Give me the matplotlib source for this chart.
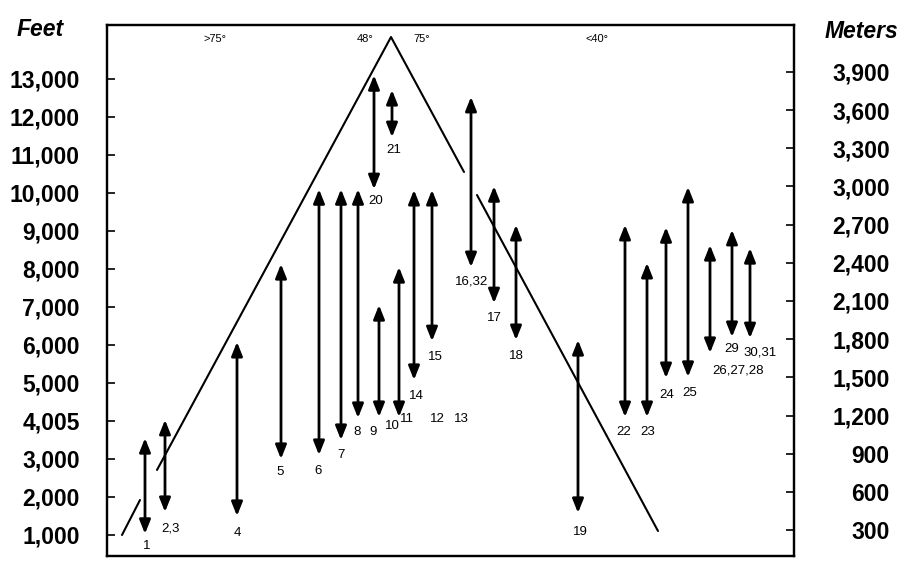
import numpy as np
import matplotlib
matplotlib.use("Agg")
import matplotlib.pyplot as plt

# ---- data -------------------------------------------------------------
site_labels = ["1", "2,3", "4", "5", "6", "7", "8", "9", "10", "14", "15",
               "16,32", "17", "18", "19", "20", "21", "22", "23", "24", "25",
               "26,27,28", "29", "30,31"]
site_x = [38, 58, 130, 174, 212, 234, 251, 272, 292, 307, 325,
          364, 387, 409, 471, 267, 285, 518, 540, 559, 581,
          603, 625, 643]
top_ft = [3550, 4030, 6080, 8130, 10100, 10100, 10100, 7050, 8050, 10080, 10080,
          12530, 10180, 9160, 6130, 13100, 12710, 9160, 8160, 9100, 10160,
          8630, 9030, 8550]
bottom_ft = [1030, 1605, 1500, 3000, 3105, 3500, 4080, 4105, 4105, 5080, 6100,
             8050, 7100, 6130, 1580, 10100, 11470, 4105, 4105, 5130, 5160,
             5790, 6210, 6180]
label_x = [40, 63, 130, 173, 211, 234, 250, 266, 285, 309, 328,
           365, 387, 409, 473, 269, 287, 517, 541, 560, 583,
           631, 625, 653]
label_y = [710, 1160, 1050, 2660, 2680, 3100, 3710, 3710, 3870, 4660, 5680,
           7660, 6710, 5710, 1080, 9790, 11130, 3710, 3710, 4680, 4740,
           5340, 5890, 5790]

extra_labels = ["11", "12", "13"]
extra_x = [300, 330, 354]
extra_y = [4050, 4050, 4050]

# mountain profile (NaN = gap)
profile_x = [15, 33, np.nan, 50, 284, 357, np.nan, 370, 551]
profile_ft = [1000, 1921, np.nan, 2711, 14105, 10553, np.nan, 9947, 1105]

angle_labels = [">75°", "48°", "75°", "<40°"]
angle_x = [108, 258, 315, 490]
angle_y = [14050, 14050, 14050, 14050]

feet_ticks = [1000, 2000, 3000, 4000, 5000, 6000, 7000, 8000, 9000, 10000,
              11000, 12000, 13000]
feet_labels = ["1,000", "2,000", "3,000", "4,005", "5,000", "6,000", "7,000",
               "8,000", "9,000", "10,000", "11,000", "12,000", "13,000"]
meter_ticks = [300, 600, 900, 1200, 1500, 1800, 2100, 2400, 2700, 3000,
               3300, 3600, 3900]
meter_labels = ["300", "600", "900", "1,200", "1,500", "1,800", "2,100",
                "2,400", "2,700", "3,000", "3,300", "3,600", "3,900"]

# ---- figure -----------------------------------------------------------
fig = plt.figure(figsize=(9.02, 5.66), dpi=100)
ax = fig.add_axes([107 / 902, 1 - 556 / 566, 687 / 902, 531 / 566])
ax.set_xlim(0, 687)
ax.set_ylim(447, 14421)

bold = dict(family="Liberation Sans", weight="bold", size=16.5)

ax.set_xticks([])
ax.set_yticks(feet_ticks)
ax.set_yticklabels(feet_labels, **bold)
ax.tick_params(axis="y", direction="in", length=6, width=1.2, pad=19.5)
for s in ax.spines.values():
    s.set_linewidth(1.6)

ax2 = ax.twinx()
ax2.set_ylim(96, 4269)
ax2.set_yticks(meter_ticks)
ax2.set_yticklabels(meter_labels, **bold)
ax2.tick_params(axis="y", direction="in", length=6, width=1.2, pad=69)
for lbl in ax2.get_yticklabels():
    lbl.set_horizontalalignment("right")
for s in ax2.spines.values():
    s.set_linewidth(1.6)

# profile
ax.plot(profile_x, profile_ft, color="black", lw=1.5, solid_capstyle="round")

# arrows
for x, t, b in zip(site_x, top_ft, bottom_ft):
    ax.annotate("", xy=(x, b), xytext=(x, t),
                arrowprops=dict(arrowstyle="<|-|>,head_length=0.55,head_width=0.22",
                                lw=2.0, color="black", shrinkA=0, shrinkB=0,
                                mutation_scale=15))

small = dict(family="Liberation Sans", size=9.5, ha="center", va="center")
for lab, x, y in zip(site_labels, label_x, label_y):
    ax.text(x, y, lab, **small)
for lab, x, y in zip(extra_labels, extra_x, extra_y):
    ax.text(x, y, lab, **small)
for lab, x, y in zip(angle_labels, angle_x, angle_y):
    ax.text(x, y, lab, family="Liberation Sans", size=8, ha="center", va="center")

fig.text(40 / 902, 1 - 29 / 566, "Feet", family="Liberation Sans", weight="bold",
         style="italic", size=16.5, ha="center", va="center")
fig.text(861 / 902, 1 - 31 / 566, "Meters", family="Liberation Sans", weight="bold",
         style="italic", size=16.5, ha="center", va="center")

fig.savefig("out.png", dpi=100)
